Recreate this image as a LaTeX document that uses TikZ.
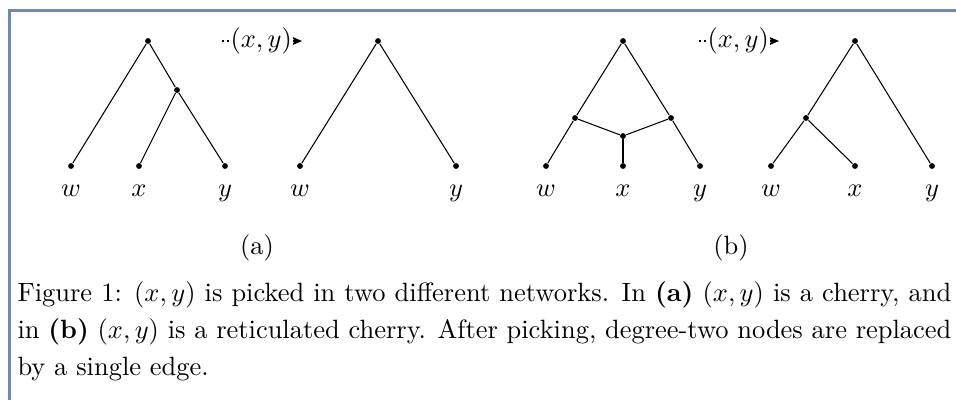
\documentclass[tikz,border=0pt]{standalone}
\usetikzlibrary{arrows.meta}
\definecolor{framecol}{RGB}{110,138,176}
\begin{document}
\begin{tikzpicture}[x=0.378pt,y=-0.378pt,
  dot/.style={circle,fill=black,inner sep=0pt,minimum size=2.2pt},
  edge/.style={draw=black,line width=0.4pt},
  leaf/.style={anchor=base,inner sep=0pt},
  pick/.style={draw=black,line width=0.4pt,dash pattern=on 0.9pt off 0.9pt,-{Stealth[length=4pt,width=3.4pt]}},
  picklabel/.style={fill=white,inner sep=0.3pt},
  sublabel/.style={anchor=base,inner sep=0pt}]
\useasboundingbox (0,0) rectangle (956,400);
\draw[framecol,line width=0.9pt] (956,10.5) -- (9.5,10.5) -- (9.5,400);

% (a) before
\node[dot] (ar) at (148,41) {};
\node[dot] (ai) at (177,90) {};
\node[dot] (aw) at (71,166) {};
\node[dot] (ax) at (139,166) {};
\node[dot] (ay) at (225,166) {};
\draw[edge] (ar) -- (aw);
\draw[edge] (ar) -- (ai);
\draw[edge] (ai) -- (ax);
\draw[edge] (ai) -- (ay);
\node[leaf] (awl) at (71,196) {$w$};
\node[leaf] (axl) at (139,196) {$x$};
\node[leaf] (ayl) at (225,196) {$y$};

% (a) pick
\coordinate (as) at (222,41);
\coordinate (ae) at (302,41);
\draw[pick] (as) -- (ae) node[pos=0.49,picklabel] (apl) {$(x,y)$};

% (a) after
\node[dot] (ar2) at (378,41) {};
\node[dot] (aw2) at (300,166) {};
\node[dot] (ay2) at (456,166) {};
\draw[edge] (ar2) -- (aw2);
\draw[edge] (ar2) -- (ay2);
\node[leaf] (aw2l) at (300,196) {$w$};
\node[leaf] (ay2l) at (456,196) {$y$};

\node[sublabel] (suba) at (257,254) {(a)};

% (b) before
\node[dot] (br) at (623,41) {};
\node[dot] (bl) at (575,118) {};
\node[dot] (bq) at (671,118) {};
\node[dot] (bh) at (623,136) {};
\node[dot] (bw) at (546,166) {};
\node[dot] (bx) at (623,166) {};
\node[dot] (by) at (700,166) {};
\draw[edge] (br) -- (bl);
\draw[edge] (br) -- (bq);
\draw[edge] (bl) -- (bh);
\draw[edge] (bq) -- (bh);
\draw[edge] (bh) -- (bx);
\draw[edge] (bl) -- (bw);
\draw[edge] (bq) -- (by);
\node[leaf] (bwl) at (546,196) {$w$};
\node[leaf] (bxl) at (623,196) {$x$};
\node[leaf] (byl) at (700,196) {$y$};

% (b) pick
\coordinate (bs) at (699,41);
\coordinate (be) at (779,41);
\draw[pick] (bs) -- (be) node[pos=0.49,picklabel] (bpl) {$(x,y)$};

% (b) after
\node[dot] (br2) at (855,41) {};
\node[dot] (bi2) at (806,118) {};
\node[dot] (bw2) at (771,166) {};
\node[dot] (bx2) at (855,166) {};
\node[dot] (by2) at (932,166) {};
\draw[edge] (br2) -- (bi2);
\draw[edge] (br2) -- (by2);
\draw[edge] (bi2) -- (bw2);
\draw[edge] (bi2) -- (bx2);
\node[leaf] (bw2l) at (771,196) {$w$};
\node[leaf] (bx2l) at (855,196) {$x$};
\node[leaf] (by2l) at (932,196) {$y$};

\node[sublabel] (subb) at (731,254) {(b)};

% caption
\node[anchor=north west,inner sep=0pt,text width=353pt,align=justify,
      font=\fontsize{10}{14}\selectfont] (cap) at (17,281)
  {Figure 1: $(x,y)$ is picked in two different networks. In \textbf{(a)} $(x,y)$ is a cherry, and in \textbf{(b)} $(x,y)$ is a reticulated cherry. After picking, degree-two nodes are replaced by a single edge.};
\end{tikzpicture}
\end{document}
